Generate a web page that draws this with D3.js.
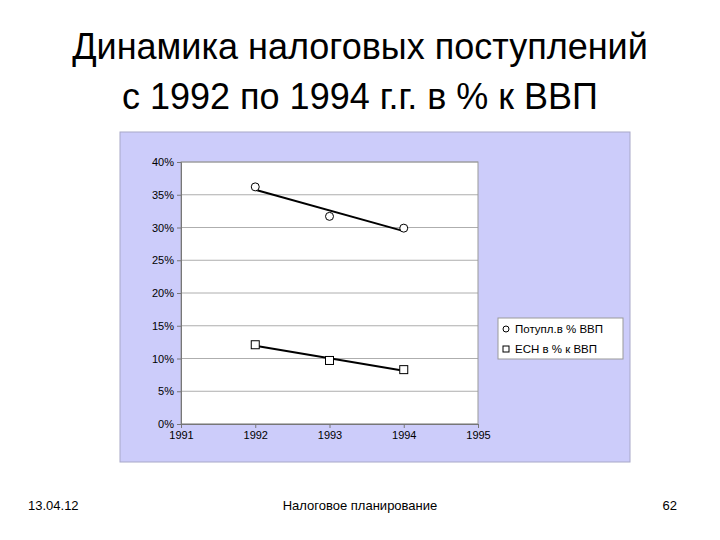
<!DOCTYPE html>
<html><head><meta charset="utf-8">
<script src="https://cdn.jsdelivr.net/npm/d3@7"></script>
<style>body{margin:0;background:#fff}</style>
</head><body>
<svg id="chart" width="720" height="540"></svg>
<script>
const years = [1992, 1993, 1994];
const receipts = [0.362, 0.317, 0.299];
const esn = [0.121, 0.097, 0.083];
const seriesNames = ["Потупл.в % ВВП", "ЕСН в % к ВВП"];
const xTicks = [1991, 1992, 1993, 1994, 1995];

const svg = d3.select("#chart");
const font = "Liberation Sans, Arial, sans-serif";

// title
svg.append("text").attr("x", 360).attr("y", 59).attr("text-anchor", "middle")
  .attr("font-family", font).attr("font-size", 36).text("Динамика налоговых поступлений");
svg.append("text").attr("x", 360).attr("y", 109).attr("text-anchor", "middle")
  .attr("font-family", font).attr("font-size", 36).text("с 1992 по 1994 г.г. в % к ВВП");

// chart panel
svg.append("rect").attr("x", 120).attr("y", 132).attr("width", 510).attr("height", 330)
  .attr("fill", "#ccccfa").attr("stroke", "#a8a8c8");

const x = d3.scaleLinear().domain([1991, 1995]).range([181, 478]);
const y = d3.scaleLinear().domain([0, 0.4]).range([424, 162]);

svg.append("rect").attr("x", 181).attr("y", 162).attr("width", 297).attr("height", 262)
  .attr("fill", "#fff").attr("stroke", "#999");

const g = svg.append("g");
g.selectAll(".grid").data(y.ticks(8)).join("line")
  .attr("x1", 181).attr("x2", 478).attr("y1", d => y(d)).attr("y2", d => y(d))
  .attr("stroke", "#999").attr("stroke-width", 0.8);

const yAxis = svg.append("g").attr("transform", "translate(181,0)")
  .call(d3.axisLeft(y).ticks(8).tickFormat(d3.format(".0%")).tickSize(4));
const xAxis = svg.append("g").attr("transform", "translate(0,424)")
  .call(d3.axisBottom(x).tickValues(xTicks).tickFormat(d3.format("d")).tickSize(4));
[xAxis, yAxis].forEach(a => {
  a.selectAll("text").attr("font-family", font).attr("font-size", 11).attr("fill", "#000");
  a.selectAll("line,path").attr("stroke", "#777");
});

function fit(vals) {
  const mx = d3.mean(years), my = d3.mean(vals);
  const b = d3.sum(years, (t, i) => (t - mx) * (vals[i] - my)) / d3.sum(years, t => (t - mx) ** 2);
  return t => my + b * (t - mx);
}
[receipts, esn].forEach(vals => {
  const f = fit(vals);
  svg.append("line").attr("x1", x(years[0])).attr("x2", x(years[2]))
    .attr("y1", y(f(years[0]))).attr("y2", y(f(years[2])))
    .attr("stroke", "#000").attr("stroke-width", 2);
});

svg.selectAll(".c").data(years).join("circle")
  .attr("cx", d => x(d)).attr("cy", (d, i) => y(receipts[i])).attr("r", 4)
  .attr("fill", "#fff").attr("stroke", "#000");
svg.selectAll(".s").data(years).join("rect")
  .attr("x", d => x(d) - 4).attr("y", (d, i) => y(esn[i]) - 4).attr("width", 8).attr("height", 8)
  .attr("fill", "#fff").attr("stroke", "#000");

// legend
const lg = svg.append("g");
lg.append("rect").attr("x", 498).attr("y", 318).attr("width", 125).attr("height", 41)
  .attr("fill", "#fff").attr("stroke", "#999");
seriesNames.forEach((n, i) => {
  const cy = 329 + i * 20;
  if (i === 0) lg.append("circle").attr("cx", 506).attr("cy", cy).attr("r", 3).attr("fill", "#fff").attr("stroke", "#000");
  else lg.append("rect").attr("x", 503).attr("y", cy - 3).attr("width", 6).attr("height", 6).attr("fill", "#fff").attr("stroke", "#000");
  lg.append("text").attr("x", 515).attr("y", cy + 4).attr("font-family", font).attr("font-size", 11.5).text(n);
});

// footer
const ft = [["13.04.12", 28, "start"], ["Налоговое планирование", 360, "middle"], ["62", 677, "end"]];
ft.forEach(([t, px, a]) => svg.append("text").attr("x", px).attr("y", 510).attr("text-anchor", a)
  .attr("font-family", font).attr("font-size", 13).text(t));
</script>
</body></html>
